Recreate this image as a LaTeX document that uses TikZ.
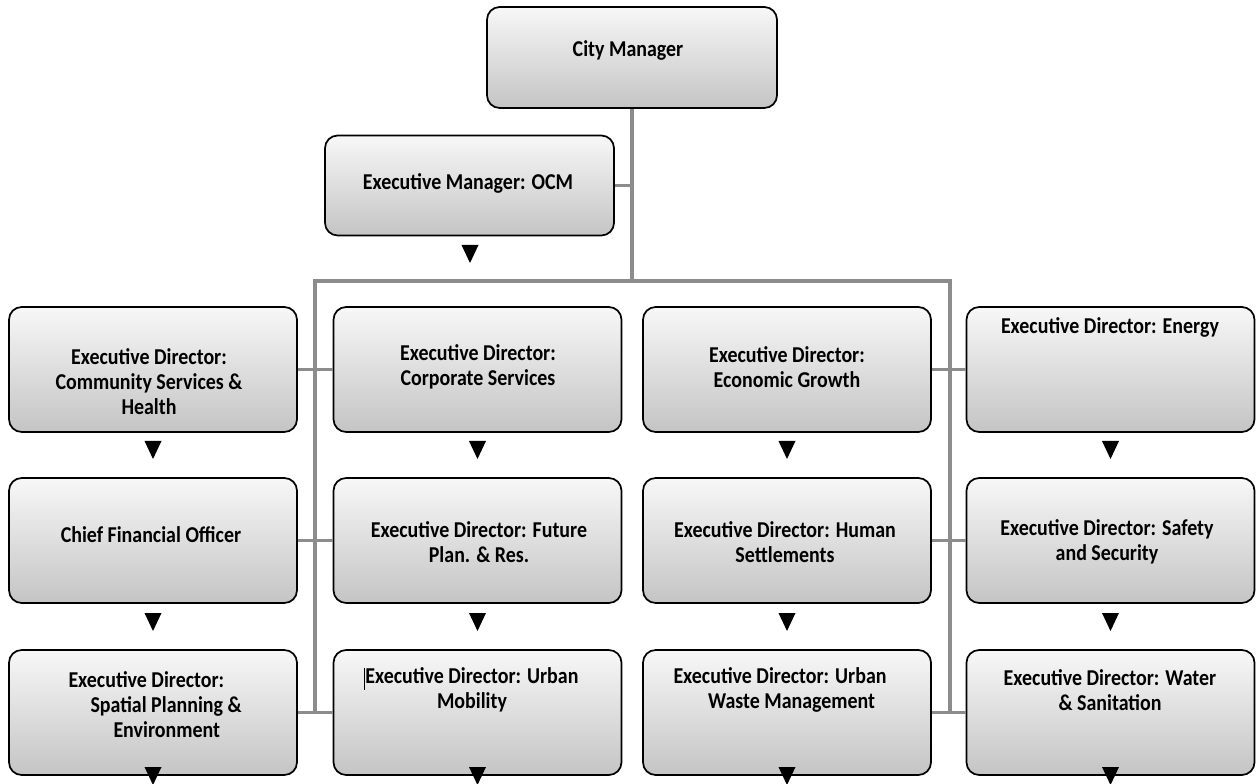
\documentclass[tikz,border=0pt]{standalone}
\usepackage{fontspec}
\setmainfont{Carlito}[FakeStretch=0.88]
\newcommand{\orgfont}{\bfseries\fontsize{17}{18.75}\selectfont}

\tikzset{every picture/.style={line width=0.75pt}}
\tikzset{
  orgbox/.style={draw=black, line width=1.3pt, rounded corners=9.5pt,
    top color=white!97!black, bottom color=black!23,
    minimum width=216pt, minimum height=93.75pt, inner sep=0pt},
  orgtext/.style={font=\orgfont, align=center, inner sep=0pt},
  link/.style={draw=black!45, line width=2.5pt},
  pics/downtri/.style={code={\fill[black] (-8.5,9) -- (8.5,9) -- (0,-9) -- cycle;}}
}

\begin{document}
\begin{tikzpicture}[x=0.75pt,y=0.75pt,yscale=-1,xscale=1]
	\useasboundingbox (0,0) rectangle (1258,784);

	%Shape: Rounded Rect [id:cm]
	\node[orgbox, minimum width=217.5pt, minimum height=75.75pt] (cm) at (632,57.5) {};
	%Shape: Rounded Rect [id:ocm]
	\node[orgbox, minimum width=216.75pt, minimum height=75pt] (ocm) at (469.5,185.5) {};

	%Shape: Rounded Rect grid [id:ed]
	\foreach \r/\y in {1/369.5, 2/540.5, 3/712.5}
	  \foreach \c/\x in {1/153, 2/477.5, 3/787, 4/1110.5}
	    \node[orgbox] (ed\r\c) at (\x,\y) {};

	%Bus points
	\coordinate (busL) at (315,281);
	\coordinate (busM) at (632,281);
	\coordinate (busR) at (950,281);

	%Straight Lines [id:links]
	\draw[link] (cm.south) -- (busM);
	\draw[link] (ocm.east) -- (ocm.east -| busM);
	\draw[link] (busL |- ed31.east) -- (busL) -- (busR) -- (busR |- ed33.east);
	\foreach \r in {1,2,3} {
	  \draw[link] (ed\r1.east) -- (ed\r2.west);
	  \draw[link] (ed\r3.east) -- (ed\r4.west);
	}

	%Shape: Triangles
	\pic at (470,254) {downtri};
	\foreach \x in {153, 477.5, 787, 1110.5}
	  \foreach \y in {450, 622, 776}
	    \pic at (\x,\y) {downtri};

	% Text Node
	\node[orgtext] (cm t) at (628,50) {City Manager};
	% Text Node
	\node[orgtext] (ocm t) at (468,183) {Executive Manager: OCM};
	% Text Node
	\node[orgtext] (ed11 t) at (149,382) {Executive Director:\\Community Services \&\\Health};
	% Text Node
	\node[orgtext] (ed12 t) at (478,367) {Executive Director:\\Corporate Services};
	% Text Node
	\node[orgtext] (ed13 t) at (787,367) {Executive Director:\\Economic Growth};
	% Text Node
	\node[orgtext] (ed14 t) at (1110,327) {Executive Director: Energy};
	% Text Node
	\node[orgtext] (ed21 t) at (151,535) {Chief Financial Officer};
	% Text Node
	\node[orgtext] (ed22 t) at (479,542) {Executive Director: Future\\Plan. \& Res.};
	% Text Node
	\node[orgtext] (ed23 t) at (785,542) {Executive Director: Human\\Settlements};
	% Text Node
	\node[orgtext] (ed24 t) at (1107,542) {Executive Director: Safety\\and Security};
	% Text Node
	\node[orgtext, align=left, anchor=west] (ed31 t) at (68,705) {Executive Director:\\\hspace*{16.5pt}Spatial Planning \&\\\hspace*{33.75pt}Environment};
	% Text Node
	\node[orgtext] (ed32 t) at (472,690) {Executive Director: Urban\\Mobility};
	% Text Node
	\node[orgtext, align=left, anchor=west] (ed33 t) at (673,690) {Executive Director: Urban\\\hspace*{26pt}Waste Management};
	% Text Node
	\node[orgtext] (ed34 t) at (1110,690) {Executive Director: Water\\\& Sanitation};

	%Cursor mark
	\draw[line width=0.6pt] (364.5,668) -- (364.5,690);

\end{tikzpicture}
\end{document}
